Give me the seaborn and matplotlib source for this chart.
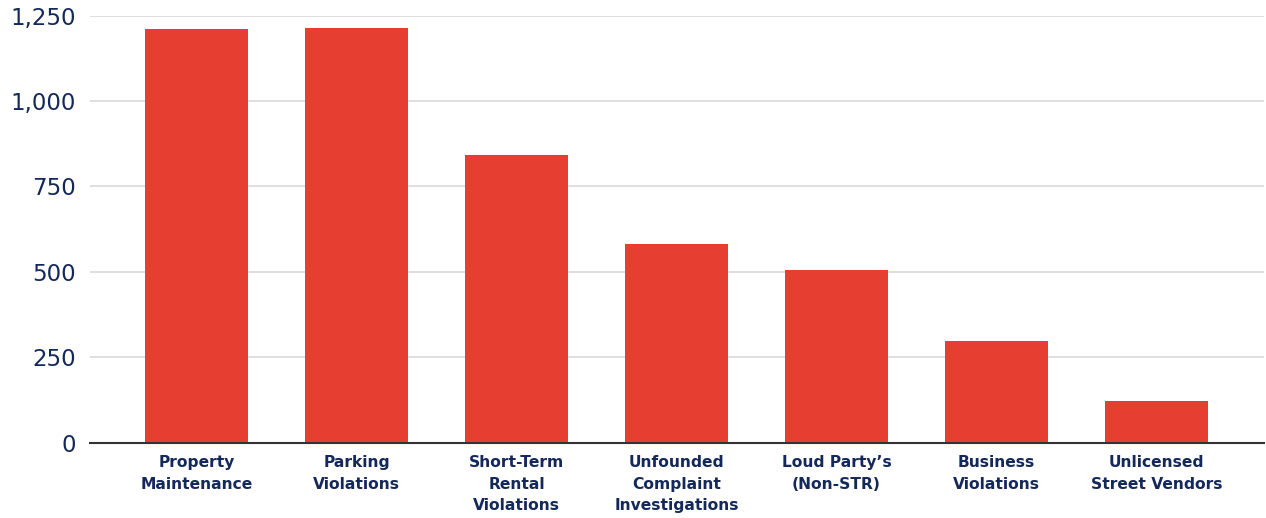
import matplotlib
matplotlib.use("Agg")
import matplotlib.pyplot as plt
import seaborn as sns
import pandas as pd

categories = ["Property\nMaintenance", "Parking\nViolations", "Short-Term\nRental\nViolations",
              "Unfounded\nComplaint\nInvestigations", "Loud Party\u2019s\n(Non-STR)",
              "Business\nViolations", "Unlicensed\nStreet Vendors"]
values = [1210, 1215, 842, 581, 505, 298, 122]
yticks = [0, 250, 500, 750, 1000, 1250]
ytick_labels = ["0", "250", "500", "750", "1,000", "1,250"]

sns.set_theme(style="white")
plt.rcParams['font.family'] = ['DejaVu Sans']

df = pd.DataFrame({"cat": categories, "val": values})
fig = plt.figure(figsize=(12.66, 5.18), dpi=100)
ax = fig.add_axes([90/1266, (518-442.5)/518, (1264-90)/1266, (442.5-15.7)/518])

sns.barplot(data=df, x="cat", y="val", color="#E63E31", saturation=1, width=0.644,
            linewidth=0, ax=ax, zorder=3)

ax.set_ylim(0, 1250)
ax.set_xlim(-0.666, 6.672)
ax.set_yticks(yticks)
ax.set_yticklabels(ytick_labels, fontsize=16.5, color="#14295A")
ax.yaxis.grid(True, color="#d9d9d9", linewidth=1.2, zorder=0)
ax.set_axisbelow(True)
ax.tick_params(axis="y", length=0, pad=10)
ax.tick_params(axis="x", length=0, pad=9)
for lbl in ax.get_xticklabels():
    lbl.set_fontsize(11.2)
    lbl.set_fontweight("bold")
    lbl.set_color("#14295A")
    lbl.set_linespacing(1.55)
ax.set_xlabel("")
ax.set_ylabel("")
for s in ["top", "right", "left"]:
    ax.spines[s].set_visible(False)
ax.spines["bottom"].set_color("#333333")
ax.spines["bottom"].set_linewidth(1.5)
ax.spines["bottom"].set_zorder(4)

fig.savefig("out.png", dpi=100)
